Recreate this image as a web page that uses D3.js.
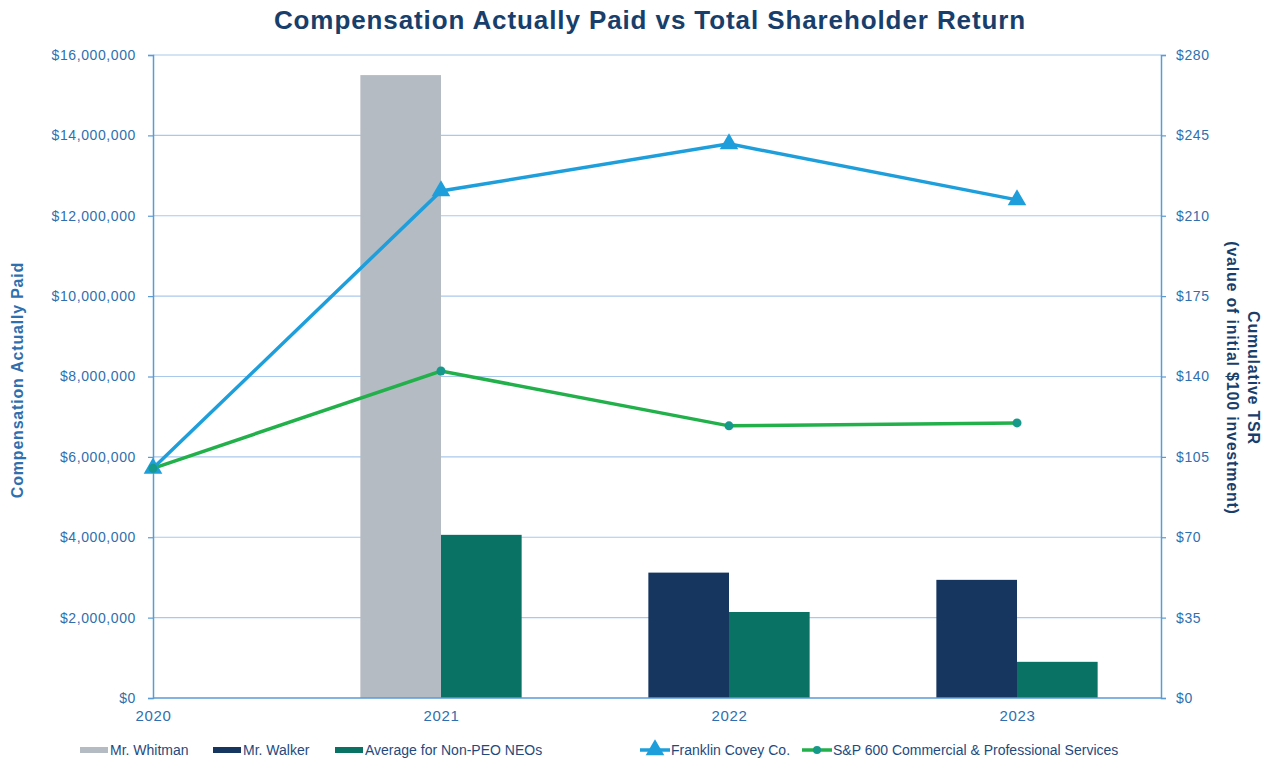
<!DOCTYPE html>
<html>
<head>
<meta charset="utf-8">
<script src="https://cdn.jsdelivr.net/npm/d3@7"></script>
<style>
  body { margin: 0; background: #fff; }
  svg { font-family: "Liberation Sans", Arial, sans-serif; }
</style>
</head>
<body>
<div id="chart"></div>
<script>
// years on the category axis
const years = [2020, 2021, 2022, 2023];

// compensation actually paid (left axis)
const whitmanCap = [null, 15500000, null, null];
const walkerCap = [null, null, 3120000, 2940000];
const neoCap = [null, 4060000, 2140000, 900000];

// cumulative TSR (right axis)
const franklinTsr = [100, 220.8, 241.3, 216.9];
const spTsr = [100, 142.4, 118.5, 119.8];

const leftTicks = [0, 2000000, 4000000, 6000000, 8000000, 10000000, 12000000, 14000000, 16000000];
const rightTicks = [0, 35, 70, 105, 140, 175, 210, 245, 280];

const colors = {
    whitman: "#b4bbc3",
    walker: "#16365f",
    neo: "#0a7265",
    franklin: "#1e9fdc",
    sp: "#22b04b",
    spMarker: "#16998a",
    axis: "#5a9bd5",
    grid: "#a8c9ea",
    tick: "#2f6fae",
    title: "#183e6b",
    legend: "#1f4a7e"
};

const W = 1272, H = 763;
const margin = { top: 55, right: 111, bottom: 65, left: 153 };
const innerW = W - margin.left - margin.right;
const innerH = H - margin.top - margin.bottom;

const svg = d3.select("#chart").append("svg")
    .attr("width", W)
    .attr("height", H);

const g = svg.append("g")
    .attr("transform", `translate(${margin.left}, ${margin.top})`);

const x = d3.scaleLinear().domain([2020, 2023.5]).range([0, innerW]);
const yL = d3.scaleLinear().domain([0, 16000000]).range([innerH, 0]);
const yR = d3.scaleLinear().domain([0, 280]).range([innerH, 0]);

const barW = x(2021) - x(2020.72);

// gridlines
g.append("g")
    .selectAll("line")
    .data(leftTicks.filter(d => d > 0))
    .join("line")
    .attr("x1", 0)
    .attr("x2", innerW)
    .attr("y1", d => yL(d))
    .attr("y2", d => yL(d))
    .attr("stroke", colors.grid)
    .attr("stroke-width", 1.2);

// bars
function drawBars(values, color, offset) {
    g.append("g")
        .selectAll("rect")
        .data(years.map((yr, i) => ({ yr: yr, v: values[i] })).filter(d => d.v != null))
        .join("rect")
        .attr("x", d => x(d.yr) + offset)
        .attr("y", d => yL(d.v))
        .attr("width", barW)
        .attr("height", d => innerH - yL(d.v))
        .attr("fill", color);
}
drawBars(whitmanCap, colors.whitman, -barW);
drawBars(walkerCap, colors.walker, -barW);
drawBars(neoCap, colors.neo, 0);

// axes
const fmtDollar = d3.format("$,");
const leftAxis = g.append("g")
    .call(d3.axisLeft(yL).tickValues(leftTicks).tickFormat(fmtDollar).tickSize(5).tickPadding(12));
const rightAxis = g.append("g")
    .attr("transform", `translate(${innerW}, 0)`)
    .call(d3.axisRight(yR).tickValues(rightTicks).tickFormat(d => "$" + d).tickSize(5).tickPadding(10));
const bottomAxis = g.append("g")
    .attr("transform", `translate(0, ${innerH})`)
    .call(d3.axisBottom(x).tickValues(years).tickFormat(d3.format("d")).tickSize(0).tickPadding(12));

[leftAxis, rightAxis, bottomAxis].forEach(a => {
    a.select(".domain").attr("stroke", colors.axis).attr("stroke-width", 1.5);
    a.selectAll(".tick line").attr("stroke", colors.axis).attr("stroke-width", 1.2);
    a.selectAll(".tick text")
        .attr("fill", colors.tick)
        .style("font-size", "14px")
        .style("letter-spacing", "0.6px");
});
bottomAxis.selectAll(".tick text").style("font-size", "15px");
bottomAxis.select(".domain").attr("d", `M0,0H${innerW}`);

// lines
const lineGen = d3.line()
    .x((d, i) => x(years[i]))
    .y(d => yR(d));

g.append("path")
    .datum(franklinTsr)
    .attr("d", lineGen)
    .attr("fill", "none")
    .attr("stroke", colors.franklin)
    .attr("stroke-width", 3.5);

g.append("path")
    .datum(spTsr)
    .attr("d", lineGen)
    .attr("fill", "none")
    .attr("stroke", colors.sp)
    .attr("stroke-width", 3.5);

const triangle = d3.symbol().type(d3.symbolTriangle).size(150);
g.append("g")
    .selectAll("path")
    .data(franklinTsr)
    .join("path")
    .attr("transform", (d, i) => `translate(${x(years[i])}, ${yR(d)})`)
    .attr("d", triangle)
    .attr("fill", colors.franklin);

g.append("g")
    .selectAll("circle")
    .data(spTsr)
    .join("circle")
    .attr("cx", (d, i) => x(years[i]))
    .attr("cy", d => yR(d))
    .attr("r", 4.5)
    .attr("fill", colors.spMarker);

// titles
svg.append("text")
    .attr("x", 650)
    .attr("y", 29)
    .attr("text-anchor", "middle")
    .style("font-size", "26px")
    .style("font-weight", "bold")
    .style("letter-spacing", "0.9px")
    .style("fill", colors.title)
    .text("Compensation Actually Paid vs Total Shareholder Return");

svg.append("text")
    .attr("transform", `translate(23, 380) rotate(-90)`)
    .attr("text-anchor", "middle")
    .style("font-size", "16px")
    .style("font-weight", "bold")
    .style("letter-spacing", "0.8px")
    .style("fill", colors.tick)
    .text("Compensation Actually Paid");

svg.append("text")
    .attr("transform", `translate(1248, 378) rotate(90)`)
    .attr("text-anchor", "middle")
    .style("font-size", "16px")
    .style("font-weight", "bold")
    .style("letter-spacing", "0.8px")
    .style("fill", colors.title)
    .text("Cumulative TSR");

svg.append("text")
    .attr("transform", `translate(1227, 378) rotate(90)`)
    .attr("text-anchor", "middle")
    .style("font-size", "16px")
    .style("font-weight", "bold")
    .style("letter-spacing", "0.8px")
    .style("fill", colors.title)
    .text("(value of initial $100 investment)");

// legend
const legendItems = [
    { label: "Mr. Whitman", color: colors.whitman, type: "bar", x: 80 },
    { label: "Mr. Walker", color: colors.walker, type: "bar", x: 213 },
    { label: "Average for Non-PEO NEOs", color: colors.neo, type: "bar", x: 335 },
    { label: "Franklin Covey Co.", color: colors.franklin, type: "tri", x: 640 },
    { label: "S&P 600 Commercial & Professional Services", color: colors.sp, type: "dot", x: 802 }
];

const legend = svg.append("g").attr("transform", "translate(0, 750)");
legendItems.forEach(item => {
    const li = legend.append("g").attr("transform", `translate(${item.x}, 0)`);
    if (item.type === "bar") {
        li.append("rect")
            .attr("x", 0).attr("y", -3)
            .attr("width", 28).attr("height", 6)
            .attr("fill", item.color);
    } else {
        li.append("line")
            .attr("x1", 0).attr("x2", 30)
            .attr("y1", 0).attr("y2", 0)
            .attr("stroke", item.color)
            .attr("stroke-width", 3.5);
        if (item.type === "tri") {
            li.append("path")
                .attr("transform", "translate(15, 0)")
                .attr("d", triangle)
                .attr("fill", item.color);
        } else {
            li.append("circle")
                .attr("cx", 15).attr("cy", 0).attr("r", 4)
                .attr("fill", colors.spMarker);
        }
    }
    li.append("text")
        .attr("x", item.type === "bar" ? 30 : 31)
        .attr("y", 5)
        .style("font-size", "14px")
        .style("fill", colors.legend)
        .text(item.label);
});
</script>
</body>
</html>
